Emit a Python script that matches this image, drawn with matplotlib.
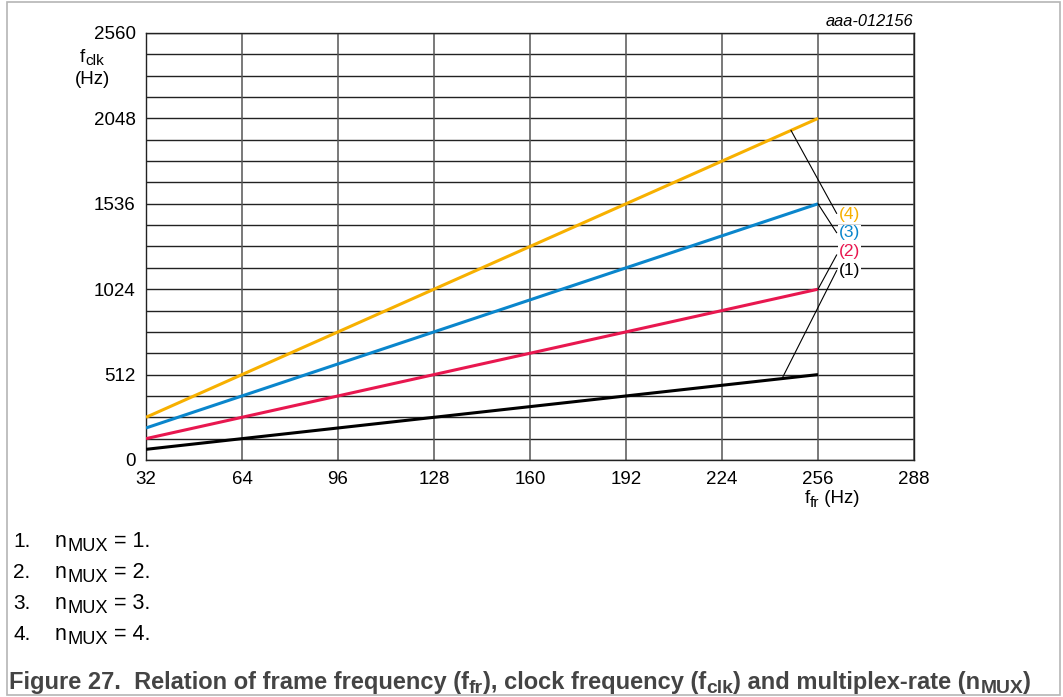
import matplotlib
matplotlib.use("Agg")
import matplotlib.pyplot as plt
import numpy as np
from matplotlib.patches import Rectangle

plt.rcParams["font.family"] = ["Liberation Sans", "DejaVu Sans"]

W, H = 1063, 697

# data: f_clk versus f_fr for each multiplex rate
f_fr = [32, 256]
clk_mux1 = [64, 512]
clk_mux2 = [128, 1024]
clk_mux3 = [192, 1536]
clk_mux4 = [256, 2048]
series = [clk_mux1, clk_mux2, clk_mux3, clk_mux4]
series_labels = ["(1)", "(2)", "(3)", "(4)"]
colors = ["#000000", "#e8174f", "#0a86cc", "#f7b000"]

x_ticks = [32, 64, 96, 128, 160, 192, 224, 256, 288]
y_ticks = [0, 512, 1024, 1536, 2048, 2560]
y_grid = np.arange(0, 2561, 128)

# where each leader touches its line (f_fr) and where the label sits
leader_x = [244, 256, 256, 247]
label_y = [1139, 1249, 1361, 1469]
leader_end_y = [1135, 1229, 1363, 1479]

note_nums = ["1.", "2.", "3.", "4."]
note_vals = ["1.", "2.", "3.", "4."]


def rich_text(fig, x_px, y_px, pieces, size, ha="left", sub_scale=0.82, drop=0.2, **kw):
    """Draw text pieces on one baseline; pieces are (text, is_subscript, gap_px)."""
    r = fig.canvas.get_renderer()
    items = []
    total = 0.0
    for s, sub, gap in pieces:
        fs = size * sub_scale if sub else size
        t = fig.text(0, 0, s, fontsize=fs, va="baseline", ha="left", **kw)
        w = t.get_window_extent(r).width
        items.append((t, sub, total))
        total += w + gap
    x0 = x_px - (total / 2 if ha == "center" else 0)
    dy = size * 100 / 72 * drop
    for t, sub, off in items:
        y = y_px + (dy if sub else 0)
        t.set_position(((x0 + off) / W, 1 - y / H))


fig = plt.figure(figsize=(W / 100, H / 100), dpi=100)
ax = fig.add_axes([146 / W, 1 - 460 / H, 768 / W, 427 / H])

for yv in y_grid:
    ax.axhline(yv, color="#222222", lw=1.0, zorder=1)
for xv in x_ticks:
    ax.axvline(xv, color="#555555", lw=1.1, zorder=1)

for vals, c in zip(series, colors):
    ax.plot(f_fr, vals, color=c, lw=2.2, solid_capstyle="butt", zorder=3)

for vals, c, lab, lx, ly, ey in zip(series, colors, series_labels, leader_x, label_y, leader_end_y):
    sy = np.interp(lx, f_fr, vals)
    ax.plot([lx, 262.2], [sy, ey], color="black", lw=0.8, zorder=4)
    ax.text(263, ly, lab, color=c, fontsize=12.5, ha="left", va="center", zorder=5,
            bbox=dict(facecolor="white", edgecolor="none", pad=0.5))

ax.set_xlim(32, 288)
ax.set_ylim(0, 2560)
ax.set_xticks(x_ticks)
ax.set_yticks(y_ticks)
ax.tick_params(length=0, labelsize=13.5)
ax.tick_params(axis="y", pad=7.5)
ax.tick_params(axis="x", pad=8)
for s in ax.spines.values():
    s.set_color("#222222")
    s.set_linewidth(1.0)

rich_text(fig, 92, 62, [("f", False, 0), ("clk", True, 0)], 13.5, ha="center", drop=0.18)
fig.text(92 / W, 1 - 84 / H, "(Hz)", fontsize=13.5, ha="center", va="baseline")
rich_text(fig, 832, 503, [("f", False, 0), ("fr", True, 0), (" (Hz)", False, 0)], 13.5, ha="center")
fig.text(913 / W, 1 - 26 / H, "aaa-012156", fontsize=11.8, style="italic", ha="right", va="baseline")

note_base = [547, 578, 609, 640]
for num, val, yp in zip(note_nums, note_vals, note_base):
    fig.text(13 / W, 1 - yp / H, num, fontsize=15, ha="left", va="baseline")
    rich_text(fig, 55, yp, [("n", False, 1), ("MUX", True, 6), ("= " + val, False, 0)], 15.5,
              sub_scale=0.85)

rich_text(fig, 9, 689,
          [("Figure 27.  Relation of frame frequency (f", False, 0), ("fr", True, 0),
           ("), clock frequency (f", False, 0), ("clk", True, 0),
           (") and multiplex-rate (n", False, 0), ("MUX", True, 0), (")", False, 0)],
          17, drop=0.15, fontweight="bold", color="#444444")

fig.patches.append(Rectangle((7 / W, 2 / H), 1053 / W, 693 / H, transform=fig.transFigure,
                             fill=False, edgecolor="#b5b5b5", lw=1.2))

fig.savefig("out.png", dpi=100)
